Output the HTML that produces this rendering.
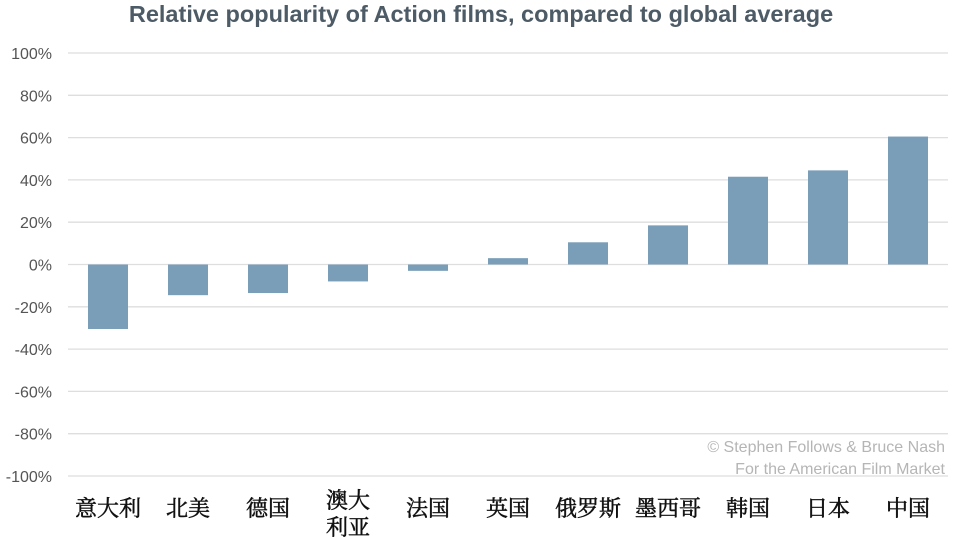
<!DOCTYPE html>
<html><head><meta charset="utf-8"><style>
body{margin:0;background:#fff;width:960px;height:540px;overflow:hidden}
svg{display:block}
</style></head><body>
<svg id="chart" width="960" height="540">
<text x="481" y="22" text-anchor="middle" font-family="Liberation Sans, sans-serif" font-weight="bold" font-size="23.5" fill="#4d5b66">Relative popularity of Action films, compared to global average</text>
<g id="grid"></g><g id="bars"></g><g id="xlabels"></g>
<text x="945" y="452" text-anchor="end" font-family="Liberation Sans, sans-serif" font-size="16" fill="#b5b5b5">© Stephen Follows &amp; Bruce Nash</text>
<text x="945" y="474" text-anchor="end" font-family="Liberation Sans, sans-serif" font-size="16" fill="#b5b5b5">For the American Film Market</text>
</svg>
<script>
const categories=[["意大利"],["北美"],["德国"],["澳大","利亚"],["法国"],["英国"],["俄罗斯"],["墨西哥"],["韩国"],["日本"],["中国"]];
const values=[-30.5,-14.5,-13.5,-8,-3,3,10.5,18.5,41.5,44.5,60.5];
const ticks=[100,80,60,40,20,0,-20,-40,-60,-80,-100];
const NS="http://www.w3.org/2000/svg";
const x0=68,x1=948,yTop=53,yBot=476;
const y=v=>yTop+(100-v)/200*(yBot-yTop);
const band=(x1-x0)/categories.length;
const xc=i=>x0+band*(i+0.5);
function mk(t,a,p){const e=document.createElementNS(NS,t);for(const k in a)e.setAttribute(k,a[k]);p.appendChild(e);return e;}
const g=document.getElementById('grid');
ticks.forEach(t=>{
 const l=mk('line',{x1:x0,x2:x1,y1:y(t),y2:y(t),stroke:'#dedede','stroke-width':1.3},g);
 
 
 const tx=mk('text',{x:52,y:y(t)+6,'text-anchor':'end','font-family':'Liberation Sans, sans-serif','font-size':16,fill:'#555'},g);
 tx.textContent=t+'%';
 
 
});
const b=document.getElementById('bars');
values.forEach((v,i)=>{
 const r=mk('rect',{x:xc(i)-20,width:40,y:Math.min(y(v),y(0)),height:Math.abs(y(v)-y(0)),fill:'#7a9db8'},b);
 
 
});
const xl=document.getElementById('xlabels');
categories.forEach((c,i)=>{
 const base=c.length>1?508:516;
 c.forEach((s,j)=>{
  const t=mk('text',{x:xc(i),y:base+j*27,'text-anchor':'middle','font-family':'Liberation Serif, Noto Serif CJK SC, serif','font-size':22,fill:'#111',stroke:'#111','stroke-width':0.5},xl);
  t.textContent=s;
  
  
 });
});
</script>
</body></html>
